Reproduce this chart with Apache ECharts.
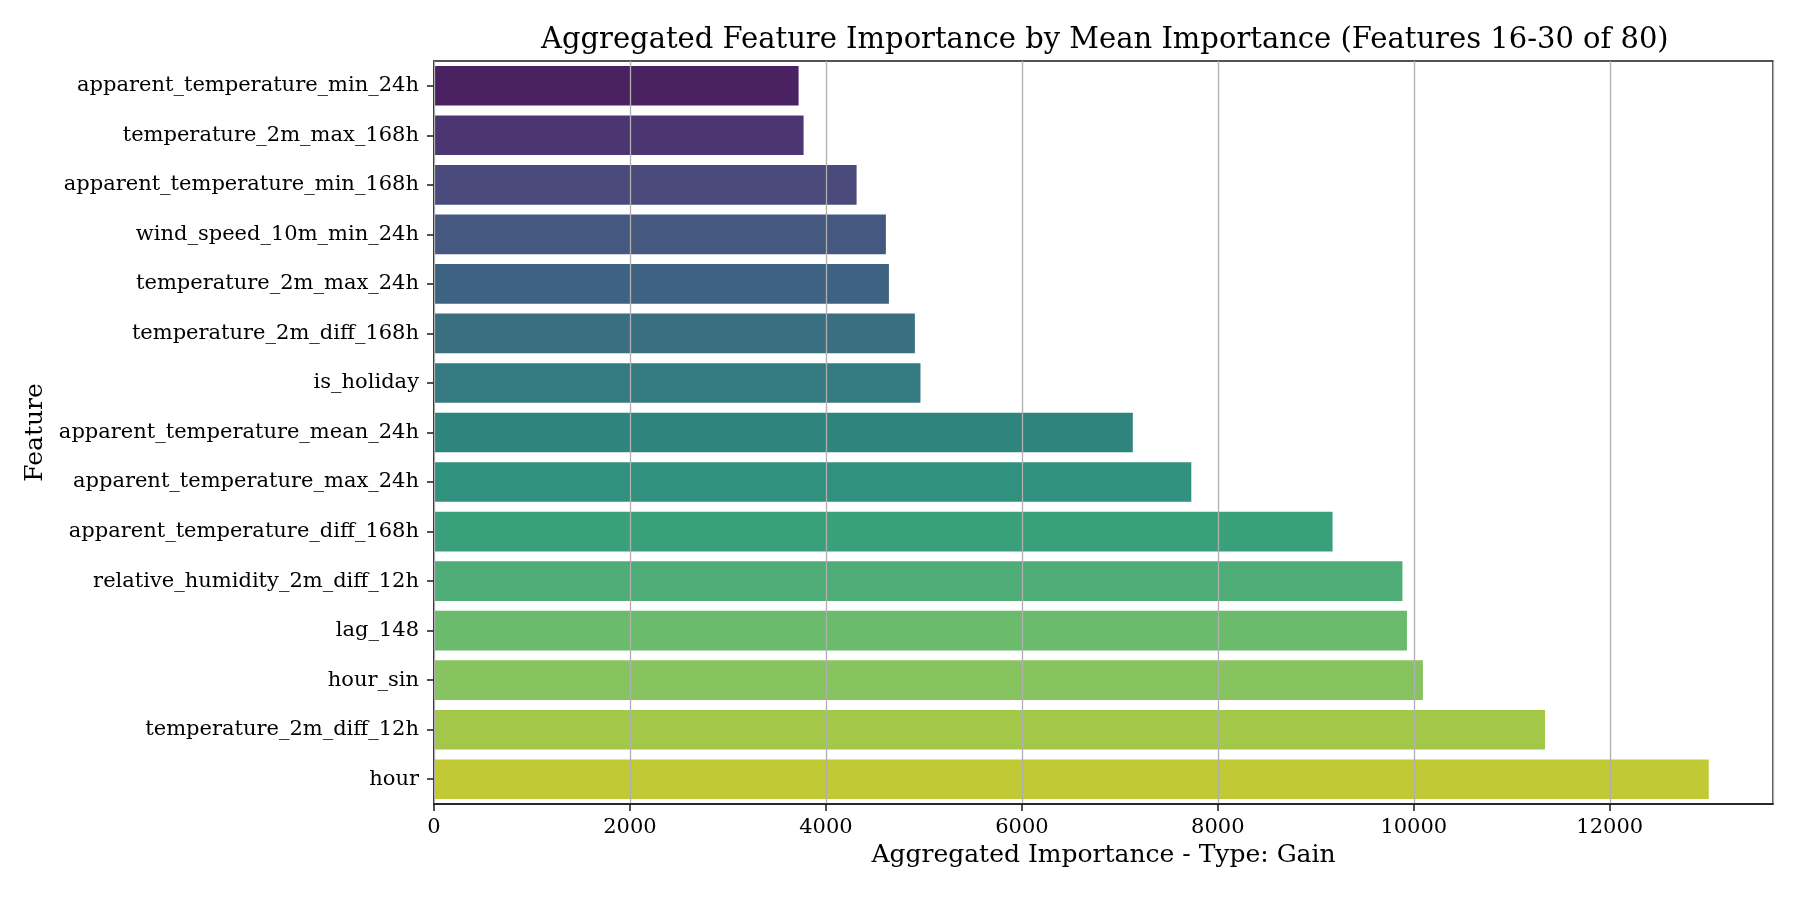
<!DOCTYPE html>
<html>
<head>
<meta charset="utf-8">
<script src="https://cdn.jsdelivr.net/npm/echarts@6/dist/echarts.min.js"></script>
<style>
  html, body { margin: 0; padding: 0; background: #fff; }
  #chart { width: 1800px; height: 900px; }
</style>
</head>
<body>
<div id="chart"></div>
<script>
// features, top to bottom
var features = [
  'apparent_temperature_min_24h',
  'temperature_2m_max_168h',
  'apparent_temperature_min_168h',
  'wind_speed_10m_min_24h',
  'temperature_2m_max_24h',
  'temperature_2m_diff_168h',
  'is_holiday',
  'apparent_temperature_mean_24h',
  'apparent_temperature_max_24h',
  'apparent_temperature_diff_168h',
  'relative_humidity_2m_diff_12h',
  'lag_148',
  'hour_sin',
  'temperature_2m_diff_12h',
  'hour'
];
var importance = [3721, 3772, 4313, 4612, 4643, 4908, 4965, 7132, 7729, 9171, 9884, 9930, 10093, 11339, 13010];
var barColors = [
  '#4a2161', '#4b3672', '#4a4a7c', '#455880', '#3e6382',
  '#3a6f82', '#357a80', '#2e857e', '#30917f', '#3aa07c',
  '#4fae77', '#6abb6c', '#87c35e', '#a3c749', '#c1ca34'
];
var xTicks = [0, 2000, 4000, 6000, 8000, 10000, 12000];

var serif = 'DejaVu Serif';
var chart = echarts.init(document.getElementById('chart'));

var option = {
  animation: false,
  backgroundColor: '#fff',
  title: {
    text: 'Aggregated Feature Importance by Mean Importance (Features 16-30 of 80)',
    left: 536,
    top: 21,
    textStyle: { fontFamily: serif, fontSize: 29, fontWeight: 'normal', color: '#000' }
  },
  grid: {
    left: 434, right: 27, top: 61, bottom: 96,
    show: true, borderColor: '#1a1a1a', borderWidth: 1.5, backgroundColor: 'transparent'
  },
  xAxis: {
    type: 'value',
    min: 0,
    max: 13666,
    interval: 2000,
    z: 5,
    name: 'Aggregated Importance - Type: Gain',
    nameLocation: 'middle',
    nameGap: 39,
    nameTextStyle: { fontFamily: serif, fontSize: 25, color: '#000' },
    axisLine: { show: true, lineStyle: { color: '#1a1a1a', width: 1.5 } },
    axisTick: { show: true, length: 7, lineStyle: { color: '#1a1a1a', width: 1.5 } },
    axisLabel: {
      fontFamily: serif, fontSize: 21, color: '#000', margin: 13,
      showMaxLabel: false,
      formatter: function (v) { return xTicks.indexOf(v) >= 0 ? String(v) : ''; }
    },
    splitLine: { show: true, lineStyle: { color: '#b0b0b0', width: 1.3 } }
  },
  yAxis: {
    type: 'category',
    data: features,
    inverse: true,
    name: 'Feature',
    nameLocation: 'middle',
    nameGap: 374,
    nameRotate: 90,
    nameTextStyle: { fontFamily: serif, fontSize: 25, color: '#000' },
    axisLine: { show: true, lineStyle: { color: '#1a1a1a', width: 1.5 } },
    axisTick: { show: true, alignWithLabel: true, length: 7, lineStyle: { color: '#1a1a1a', width: 1.5 } },
    axisLabel: { fontFamily: serif, fontSize: 21, color: '#000', margin: 15, interval: 0 },
    splitLine: { show: false }
  },
  series: [{
    type: 'bar',
    z: 1,
    barCategoryGap: '20%',
    data: importance.map(function (v, i) {
      return { value: v, itemStyle: { color: barColors[i] } };
    })
  }]
};

chart.setOption(option);
</script>
</body>
</html>
